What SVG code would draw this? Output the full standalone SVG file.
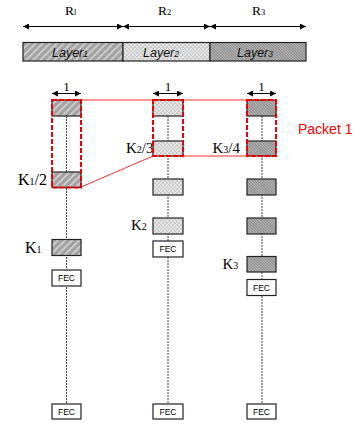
<svg xmlns="http://www.w3.org/2000/svg" width="354" height="425" viewBox="0 0 354 425">
<style>
.ser{font-family:"Liberation Serif","Times New Roman",serif;fill:#000}
.san{font-family:"Liberation Sans",Arial,sans-serif;fill:#000}
.lay{font-family:"Liberation Sans",Arial,sans-serif;font-style:italic;font-size:12.5px;fill:#111}
.box{stroke:#222;stroke-width:1.2}
.h1{fill:url(#p1)}
.h2{fill:url(#p2)}
.h3{fill:url(#p3)}
.fec{fill:#fff;stroke:#222;stroke-width:1.2}
.fect{font-family:"Liberation Sans",Arial,sans-serif;font-size:8.5px;fill:#000;text-anchor:middle}
.vl{stroke:#333;stroke-width:0.9;stroke-dasharray:2 1;fill:none}
.ar{stroke:#000;stroke-width:1;fill:none;marker-start:url(#ah);marker-end:url(#ah)}
.rd{fill:none;stroke:#e00;stroke-width:2;stroke-dasharray:5 2}
.rl{stroke:#e33;stroke-width:1;fill:none}
</style>
<defs>
<pattern id="p1" width="5" height="5" patternUnits="userSpaceOnUse" patternTransform="rotate(45)">
<rect width="5" height="5" fill="#a2a2a2"/>
<rect width="1.8" height="5" fill="#cfcfcf"/>
</pattern>
<pattern id="p2" width="4" height="4" patternUnits="userSpaceOnUse">
<rect width="4" height="4" fill="#e4e4e4"/>
<rect width="2" height="2" fill="#cdcdcd"/>
<rect x="2" y="2" width="2" height="2" fill="#cdcdcd"/>
</pattern>
<pattern id="p3" width="2" height="2" patternUnits="userSpaceOnUse" patternTransform="rotate(-45)">
<rect width="2" height="2" fill="#b4b4b4"/>
<rect width="1" height="2" fill="#8e8e8e"/>
</pattern>
<marker id="ah" viewBox="0 0 10 10" refX="10" refY="5" markerWidth="8" markerHeight="6" markerUnits="userSpaceOnUse" orient="auto-start-reverse">
<path d="M0,0 L10,5 L0,10 z" fill="#000"/>
</marker>
</defs>

<g id="rate-arrows">
<line class="ar" x1="23" y1="26.5" x2="123" y2="26.5"/>
<line class="ar" x1="123" y1="26.5" x2="210" y2="26.5"/>
<line class="ar" x1="210" y1="26.5" x2="306" y2="26.5"/>
<text class="ser" x="65" y="15" font-size="13.5">R<tspan font-size="8.5">l</tspan></text>
<text class="ser" x="158" y="15" font-size="13.5">R<tspan font-size="8.5">2</tspan></text>
<text class="ser" x="252" y="15" font-size="13.5">R<tspan font-size="8.5">3</tspan></text>
</g>

<g id="layer-bar">
<rect class="box h1" x="23" y="42.5" width="100" height="18.5"/>
<rect class="box h2" x="123" y="42.5" width="87" height="18.5"/>
<rect class="box h3" x="210" y="42.5" width="96" height="18.5"/>
<text class="lay" x="52" y="57">Layer<tspan font-size="8.5">1</tspan></text>
<text class="lay" x="143" y="57">Layer<tspan font-size="8.5">2</tspan></text>
<text class="lay" x="237" y="57">Layer<tspan font-size="8.5">3</tspan></text>
</g>

<g id="connectors">
<line class="vl" x1="66.5" y1="116" x2="66.5" y2="404"/>
<line class="vl" x1="168" y1="116" x2="168" y2="404"/>
<line class="vl" x1="262" y1="116" x2="262" y2="404"/>
<line class="rl" x1="81" y1="100" x2="247" y2="100"/>
<line class="rl" x1="81" y1="187" x2="153" y2="156"/>
<line class="rl" x1="183" y1="156" x2="247" y2="156"/>
</g>

<g id="width-arrows">
<line class="ar" x1="52" y1="93.5" x2="81" y2="93.5"/>
<line class="ar" x1="153" y1="93.5" x2="183" y2="93.5"/>
<line class="ar" x1="247" y1="93.5" x2="276" y2="93.5"/>
<text class="ser" x="66.5" y="90.5" font-size="13" text-anchor="middle">1</text>
<text class="ser" x="168" y="90.5" font-size="13" text-anchor="middle">1</text>
<text class="ser" x="261.5" y="90.5" font-size="13" text-anchor="middle">1</text>
</g>

<g id="col1">
<rect class="box h1" x="52" y="100" width="29" height="16"/>
<rect class="box h1" x="52" y="172" width="29" height="15.5"/>
<rect class="box h1" x="52" y="239.5" width="29" height="16"/>
<rect class="fec" x="52" y="270" width="29" height="16"/>
<text class="fect" x="66.5" y="281">FEC</text>
<rect class="fec" x="52" y="404" width="29" height="15"/>
<text class="fect" x="66.5" y="414.5">FEC</text>
<text class="ser" x="18" y="185" font-size="16">K<tspan font-size="10">1</tspan>/2</text>
<text class="ser" x="25" y="252.5" font-size="16">K<tspan font-size="10">1</tspan></text>
</g>

<g id="col2">
<rect class="box h2" x="153" y="100" width="30" height="16"/>
<rect class="box h2" x="153" y="141" width="30" height="15"/>
<rect class="box h2" x="153" y="179" width="30" height="16"/>
<rect class="box h2" x="153" y="218" width="30" height="16"/>
<rect class="fec" x="153" y="241" width="30" height="16"/>
<text class="fect" x="168" y="252">FEC</text>
<rect class="fec" x="153" y="404" width="30" height="15"/>
<text class="fect" x="168" y="414.5">FEC</text>
<text class="ser" x="126" y="152.5" font-size="15">K<tspan font-size="10">2</tspan>/3</text>
<text class="ser" x="131" y="230" font-size="15">K<tspan font-size="10">2</tspan></text>
</g>

<g id="col3">
<rect class="box h3" x="247" y="100" width="29" height="16"/>
<rect class="box h3" x="247" y="141" width="29" height="15"/>
<rect class="box h3" x="247" y="179" width="29" height="16"/>
<rect class="box h3" x="247" y="218" width="29" height="16"/>
<rect class="box h3" x="247" y="256.5" width="29" height="15.5"/>
<rect class="fec" x="247" y="279.5" width="29" height="16"/>
<text class="fect" x="261.5" y="290.5">FEC</text>
<rect class="fec" x="247" y="404" width="29" height="15"/>
<text class="fect" x="261.5" y="414.5">FEC</text>
<text class="ser" x="212.5" y="152.5" font-size="15">K<tspan font-size="10">3</tspan>/4</text>
<text class="ser" x="222.5" y="269" font-size="15">K<tspan font-size="10">3</tspan></text>
</g>

<g id="packet">
<rect class="rd" x="52" y="100" width="29" height="87.5"/>
<rect class="rd" x="153" y="100" width="30" height="56"/>
<rect class="rd" x="247" y="100" width="29" height="56"/>
<text class="san" x="298" y="133.5" font-size="14" style="fill:#e00">Packet 1</text>
</g>
</svg>
